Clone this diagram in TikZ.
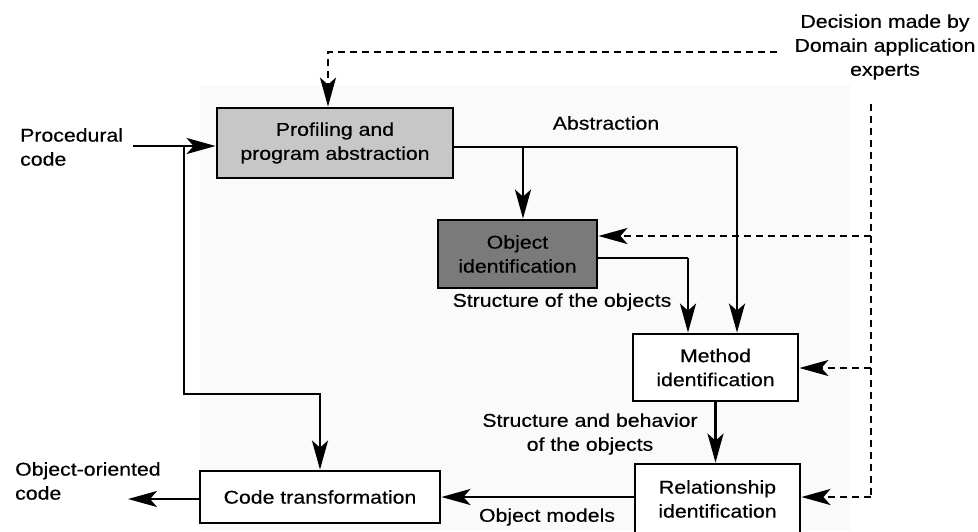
\documentclass[tikz,border=0pt]{standalone}
\usepackage{fontspec}
\setmainfont{Liberation Sans}[FakeStretch=1.15,FakeBold=0.4]
\usetikzlibrary{arrows.meta}
\newcommand\lblfont{\fontsize{18.5}{24}\selectfont}
\begin{document}
\begin{tikzpicture}[x=1pt,y=-1pt,
  every node/.style={font=\lblfont,align=center,inner sep=0pt},
  box/.style={draw,line width=2.8pt,rectangle},
  lite/.style={box,fill=black!22},
  dark/.style={box,fill=black!52},
  plain/.style={box,fill=white},
  tip/.tip={Stealth[length=29pt,width=16pt,inset=7pt]},
  flow/.style={line width=2.5pt,-tip},
  link/.style={line width=2.5pt},
  ctrl/.style={line width=2.5pt,dash pattern=on 7pt off 5pt,-tip},
  ctrlline/.style={line width=2.5pt,dash pattern=on 7pt off 5pt}]
\useasboundingbox (0,0) rectangle (978,531);
\clip (0,0) rectangle (978,531);
% faint stippled ground behind the process
\fill[black!2] (200,85) rectangle (850,531);

% process boxes
\node[lite,minimum width=236pt,minimum height=70pt] (prof) at (335,143) {Profiling and\\program abstraction};
\node[dark,minimum width=159pt,minimum height=68pt] (obj) at (517.5,254) {Object\\identification};
\node[plain,minimum width=165pt,minimum height=67pt] (meth) at (715.5,367.5) {Method\\identification};
\node[plain,minimum width=165pt,minimum height=70pt] (rel) at (717.5,499) {Relationship\\identification};
\node[plain,minimum width=240pt,minimum height=52pt] (code) at (320,497) {Code transformation};

% free-standing labels
\node[align=left,anchor=west] (inlbl) at (20,147) {Procedural\\code};
\node[align=left,anchor=west] (outlbl) at (15,481) {Object-oriented\\code};
\node (dec) at (885,47) {Decision made by\\Domain application\\experts};
\node (abs) at (606,123) {Abstraction};
\node (sobj) at (562,302) {Structure of the objects};
\node (sbeh) at (590,434) {Structure and behavior\\of the objects};
\node (omod) at (547,517) {Object models};

% connector end points and bends
\coordinate (in) at (133,146);
\coordinate (fb) at (184,146);
\coordinate (fbturn) at (184,394);
\coordinate (ab) at (737,147);
\coordinate (abbr) at (523,147);
\coordinate (so) at (688,258);
\coordinate (out) at (128,499);
\coordinate (dtop) at (777,52);
\coordinate (dcor) at (328,52);
\coordinate (vt) at (871,104);
\coordinate (d1) at (871,236);
\coordinate (d2) at (871,368);
\coordinate (d3) at (871,497);

% solid flow
\draw[flow] (in) -- (in -| prof.west);
\draw[flow] (fb) -- (fbturn) -| (code.north);
\draw[link] (prof.east |- ab) -- (ab);
\draw[flow] (ab) -- (ab |- meth.north);
\draw[flow] (abbr) -- (abbr |- obj.north);
\draw[link] (obj.east |- so) -- (so);
\draw[flow] (so) -- (so |- meth.north);
\draw[flow] (meth.south) -- (meth.south |- rel.north);
\draw[flow] (rel.west |- d3) -- (code.east |- d3);
\draw[flow] (code.west |- out) -- (out);

% expert decisions (dashed)
\draw[ctrl] (dtop) -- (dcor) -- (dcor |- prof.north);
\draw[ctrlline] (vt) -- (d3);
\draw[ctrl] (d1) -- (d1 -| obj.east);
\draw[ctrl] (d2) -- (d2 -| meth.east);
\draw[ctrl] (d3) -- (d3 -| rel.east);
\end{tikzpicture}
\end{document}
